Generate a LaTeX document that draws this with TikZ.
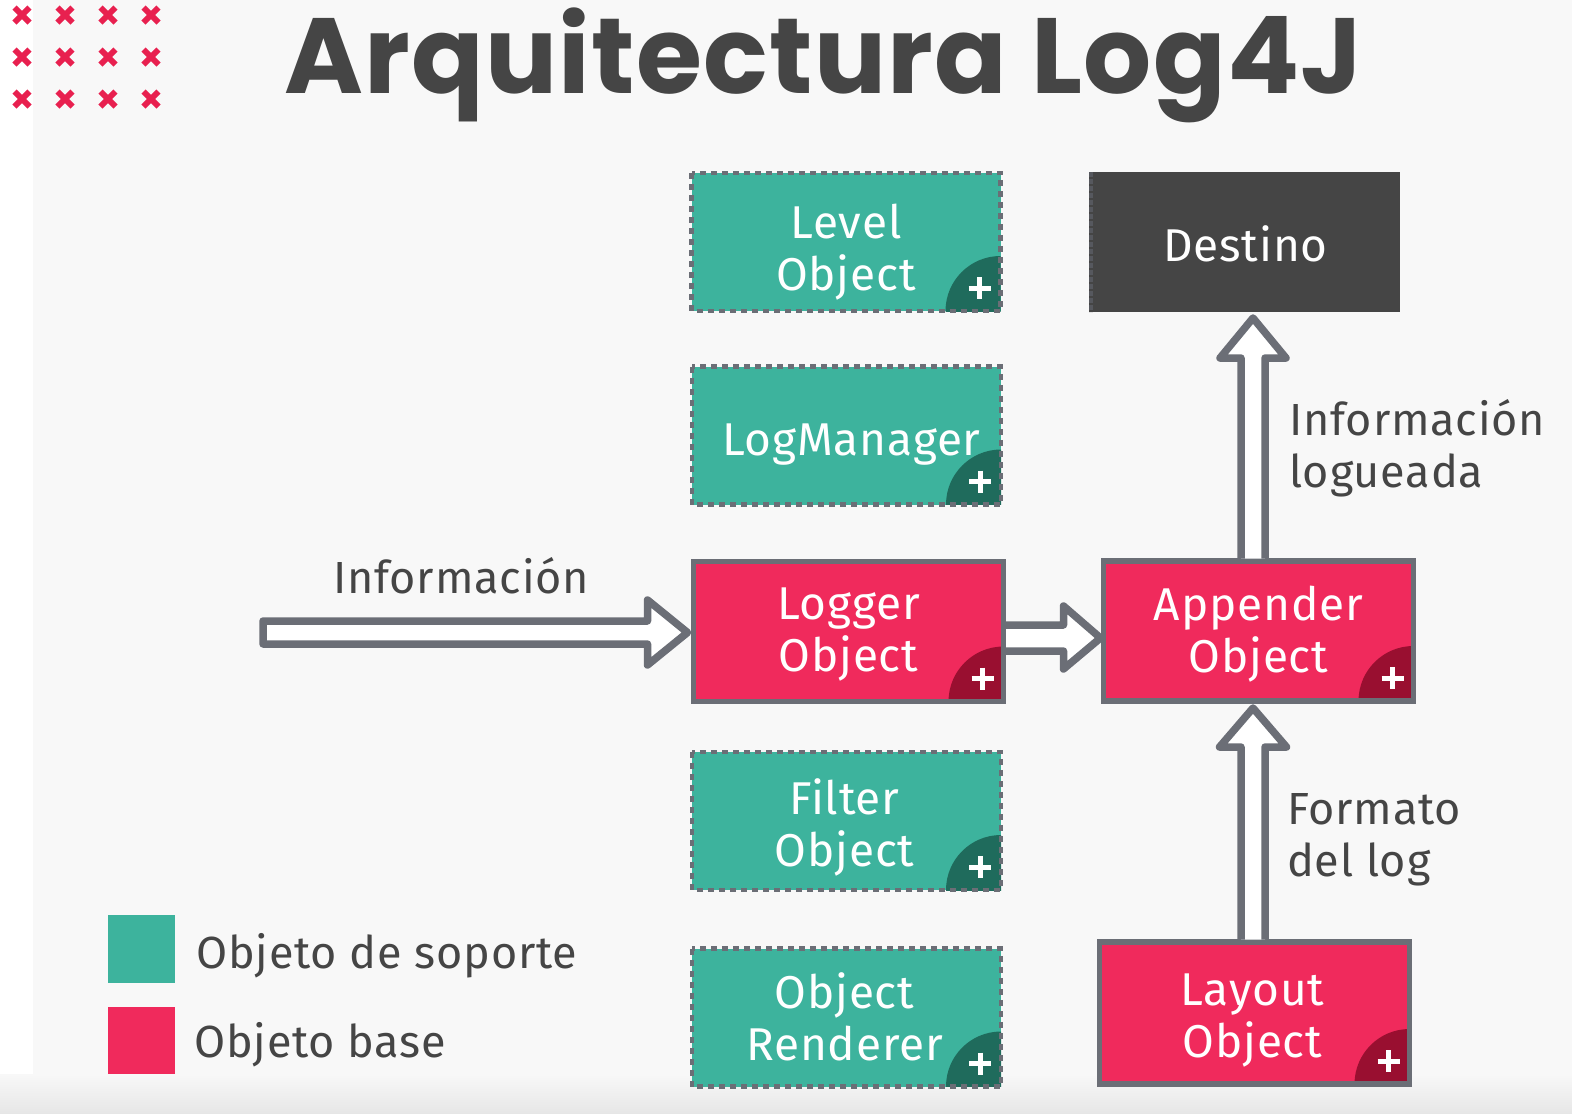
\documentclass[tikz,border=0pt]{standalone}
\usepackage{fontspec}
\setmainfont{Fira Sans}[LetterSpace=1.8]
\newfontfamily\titlefont{Poppins}[LetterSpace=1.2]
\usetikzlibrary{calc}
\definecolor{bgc}{HTML}{F8F8F8}
\definecolor{shadowc}{HTML}{E6E6E6}
\definecolor{tealc}{HTML}{3DB39D}
\definecolor{tealdark}{HTML}{1F6B5C}
\definecolor{pinkc}{HTML}{F02A5C}
\definecolor{pinkdark}{HTML}{990F30}
\definecolor{bordc}{HTML}{6B6E76}
\definecolor{darkbox}{HTML}{454545}
\definecolor{txtc}{HTML}{454545}
\definecolor{crossc}{HTML}{E8204F}
\tikzset{
  boxbase/.style={minimum width=309pt, minimum height=138pt, inner sep=0pt, outer sep=0pt, draw=none},
  tealbox/.style={boxbase, fill=tealc},
  pinkbox/.style={boxbase, fill=pinkc, minimum width=310pt, minimum height=140pt},
  darkboxs/.style={boxbase, fill=darkbox},
  dashborder/.style={draw=bordc, line width=4.5pt, dash pattern=on 6pt off 5pt},
  solidborder/.style={draw=bordc, line width=5.5pt},
  boxtext/.style={text=white, font=\fontsize{46}{52}\selectfont, align=center, inner sep=0pt},
  lbl/.style={text=txtc, font=\fontsize{45}{52}\selectfont, align=left, inner sep=0pt},
  plussign/.style={draw=white, line width=5pt},
  blockarrow/.style={draw=bordc, fill=white, line width=7.5pt, line join=round, line cap=round},
  crossmark/.style={draw=crossc, line width=6pt},
}
\newcommand\boxcorner[2]{%
  \begin{scope}
    \clip (#1.north west) rectangle (#1.south east);
    \fill[#2] (#1.south east) circle[radius=55pt];
  \end{scope}
  \draw[plussign] ($(#1.south east)+(-32,-23)$) -- ++(22,0);
  \draw[plussign] ($(#1.south east)+(-21,-34)$) -- ++(0,22);
}
\begin{document}
\begin{tikzpicture}[x=1pt,y=-1pt]
\useasboundingbox (0,0) rectangle (1572,1114);
% background
\fill[white] (0,0) rectangle (1572,1114);
\fill[bgc] (33,0) rectangle (1572,1114);
\fill[top color=bgc, bottom color=shadowc, draw=none] (0,1074) rectangle (1572,1114);
% crosses
\foreach \cx in {22,65,108,151}{
  \foreach \cy in {15,57,99}{
    \draw[crossmark] (\cx-7.5,\cy-7.5) -- (\cx+7.5,\cy+7.5);
    \draw[crossmark] (\cx-7.5,\cy+7.5) -- (\cx+7.5,\cy-7.5);
  }
}
% title
\node[anchor=base, inner sep=0pt, text=txtc, font=\titlefont\bfseries\fontsize{107}{120}\selectfont] (title) at (823.5,93) {Arquitectura Log4J};

% boxes
\node[tealbox] (level) at (846,242) {};
\node[tealbox] (logm) at (846.5,435.5) {};
\node[pinkbox] (logger) at (848.5,631.5) {};
\node[pinkbox] (appender) at (1258.5,631) {};
\node[tealbox] (filter) at (846.5,821) {};
\node[tealbox] (renderer) at (846.5,1017.5) {};
\node[pinkbox, minimum height=142pt] (layout) at (1254.5,1013) {};
\node[darkboxs, minimum width=311pt, minimum height=140pt] (destino) at (1244.5,242) {};

\boxcorner{level}{tealdark}
\boxcorner{logm}{tealdark}
\boxcorner{filter}{tealdark}
\boxcorner{renderer}{tealdark}
\boxcorner{logger}{pinkdark}
\boxcorner{appender}{pinkdark}
\boxcorner{layout}{pinkdark}

\draw[dashborder] (level.north west) rectangle (level.south east);
\draw[dashborder] (logm.north west) rectangle (logm.south east);
\draw[dashborder] (filter.north west) rectangle (filter.south east);
\draw[dashborder] (renderer.north west) rectangle (renderer.south east);
\draw[solidborder] (logger.north west) rectangle (logger.south east);
\draw[solidborder] (appender.north west) rectangle (appender.south east);
\draw[solidborder] (layout.north west) rectangle (layout.south east);
\draw[dashborder, line width=4pt, dash pattern=on 5pt off 2pt, draw=bordc!80!black] ($(destino.north west)+(2,0)$) -- ($(destino.south west)+(2,0)$);

% box texts
\node[boxtext] (levelT) at ($(level)+(0,10.5)$) {Level\\Object};
\node[boxtext] (logmT) at ($(logm)+(5,9)$) {LogManager};
\node[boxtext] (loggerT) at ($(logger)+(0,3)$) {Logger\\Object};
\node[boxtext] (appenderT) at ($(appender)+(0,3.5)$) {Appender\\Object};
\node[boxtext] (filterT) at ($(filter)+(-2,6.5)$) {Filter\\Object};
\node[boxtext] (rendererT) at ($(renderer)+(-2,-1)$) {Object\\Renderer};
\node[boxtext] (layoutT) at ($(layout)+(-2,8)$) {Layout\\Object};
\node[boxtext] (destinoT) at ($(destino)+(1,1.5)$) {Destino};

% arrows
\coordinate (infoTail) at (263,632.5);
\coordinate (infoTip) at ($(logger.west)+(-6,1)$);
\draw[blockarrow] ($(infoTail)+(0,-11.5)$) -- ($(infoTip)+(-40,-11.5)$) -- ($(infoTip)+(-40,-32.5)$) -- (infoTip) -- ($(infoTip)+(-40,32.5)$) -- ($(infoTip)+(-40,11.5)$) -- ($(infoTail)+(0,11.5)$) -- cycle;

\coordinate (laTail) at ($(logger.east)+(2.5,6.5)$);
\coordinate (laTip) at ($(appender.west)+(-3,7)$);
\draw[blockarrow, line cap=butt] ($(laTail)+(0,-13)$) -- ($(laTip)+(-37,-13)$) -- ($(laTip)+(-37,-32)$) -- (laTip) -- ($(laTip)+(-37,31)$) -- ($(laTip)+(-37,13)$) -- ($(laTail)+(0,13)$);

\coordinate (adTail) at ($(appender.north)+(-5.5,-2.5)$);
\coordinate (adTip) at ($(destino.south)+(8.5,6)$);
\draw[blockarrow, line cap=butt] ($(adTail)+(-12,0)$) -- ($(adTip)+(-12,40)$) -- ($(adTip)+(-33,40)$) -- (adTip) -- ($(adTip)+(33,40)$) -- ($(adTip)+(12,40)$) -- ($(adTail)+(12,0)$);

\coordinate (lyTail) at ($(layout.north)+(-1.5,-2.5)$);
\coordinate (lyTip) at ($(appender.south)+(-5.5,7)$);
\draw[blockarrow, line cap=butt] ($(lyTail)+(-12,0)$) -- ($(lyTip)+(-12,39)$) -- ($(lyTip)+(-33.5,39)$) -- (lyTip) -- ($(lyTip)+(33.5,39)$) -- ($(lyTip)+(12,39)$) -- ($(lyTail)+(12,0)$);

% labels
\node[lbl, anchor=base] (infoL) at (461,593) {Información};
\node[lbl, anchor=west] (logL) at (1289,448) {Información\\logueada};
\node[lbl, anchor=west] (fmtL) at (1287,840) {Formato\\del log};

% legend
\fill[tealc] (108,915) rectangle (175,983);
\fill[pinkc] (108,1007) rectangle (175,1074);
\node[lbl, anchor=base west] (leg1) at (196,968) {Objeto de soporte};
\node[lbl, anchor=base west] (leg2) at (194,1057) {Objeto base};
\end{tikzpicture}
\end{document}
